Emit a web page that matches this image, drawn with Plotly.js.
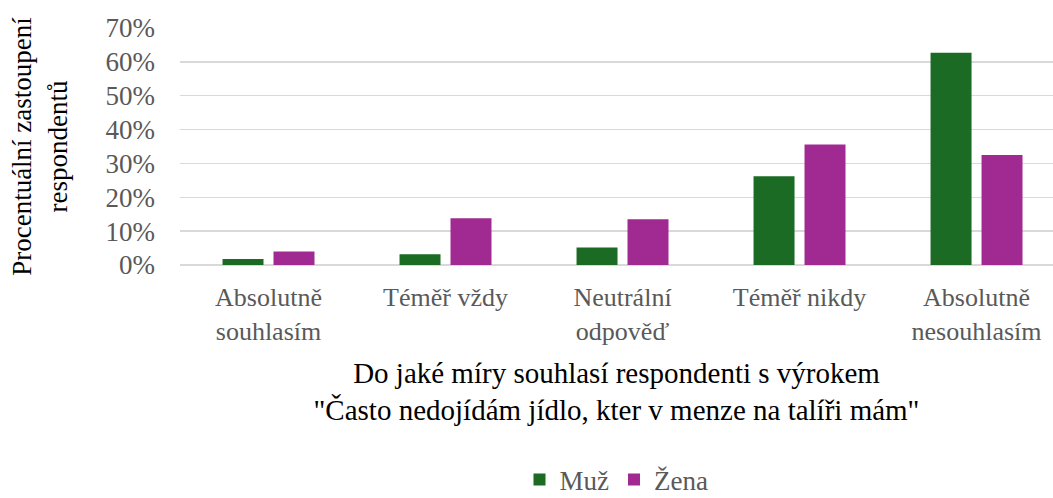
<!DOCTYPE html>
<html>
<head>
<meta charset="utf-8">
<script src="https://cdn.plot.ly/plotly-3.0.1.min.js"></script>
<style>html,body{margin:0;padding:0;background:#fff}#chart{width:1053px;height:498px}</style>
</head>
<body>
<div id="chart"></div>
<script>
const categories = ["Absolutně<br>souhlasím", "Téměř vždy", "Neutrální<br>odpověď", "Téměř nikdy", "Absolutně<br>nesouhlasím"];
const seriesNames = ["Muž", "Žena"];
const muz = [1.8, 3.2, 5.2, 26.2, 62.7];
const zena = [4.0, 13.8, 13.5, 35.6, 32.5];
const yTicks = [0, 10, 20, 30, 40, 50, 60, 70];
const yTickLabels = yTicks.map(v => v + "%");

const font = "'Liberation Serif', 'Times New Roman', serif";
const traces = [
  {type: "bar", name: seriesNames[0], x: categories, y: muz, marker: {color: "#1B6B24"}, hoverinfo: "y"},
  {type: "bar", name: seriesNames[1], x: categories, y: zena, marker: {color: "#A02A91"}, hoverinfo: "y"}
];
const layout = {
  width: 1053, height: 498,
  margin: {l: 180, r: 0, t: 28, b: 233},
  paper_bgcolor: "#fff", plot_bgcolor: "#fff",
  font: {family: font, color: "#595959", size: 26},
  barmode: "group", bargap: 0.424, bargroupgap: 0.196,
  showlegend: true,
  legend: {orientation: "h", x: 0.5, xanchor: "center", yref: "container", y: 0.036, yanchor: "middle", font: {family: font, size: 27, color: "#595959"}, traceorder: "normal"},
  xaxis: {
    type: "category", range: [-0.5, 4.432], showgrid: false, showline: false, ticks: "", zeroline: false, automargin: false,
    tickfont: {family: font, size: 26, color: "#595959"}, ticklabelstandoff: 14,
    title: {text: "Do jaké míry souhlasí respondenti s výrokem<br>\"Často nedojídám jídlo, kter v menze na talíři mám\"", font: {family: font, size: 29, color: "#000"}, standoff: 17}
  },
  yaxis: {
    range: [0, 70], tickvals: yTicks, ticktext: yTickLabels, showgrid: true, gridcolor: "#D9D9D9", gridwidth: 1.5,
    zeroline: true, zerolinecolor: "#D9D9D9", zerolinewidth: 1.5, showline: false, ticks: "", automargin: false,
    tickfont: {family: font, size: 27, color: "#595959"}, ticklabelstandoff: 24,
    title: {text: "Procentuální zastoupení<br>respondentů", font: {family: font, size: 27, color: "#000"}, standoff: 30}
  }
};
Plotly.newPlot("chart", traces, layout, {displayModeBar: false, staticPlot: true});
</script>
</body>
</html>
